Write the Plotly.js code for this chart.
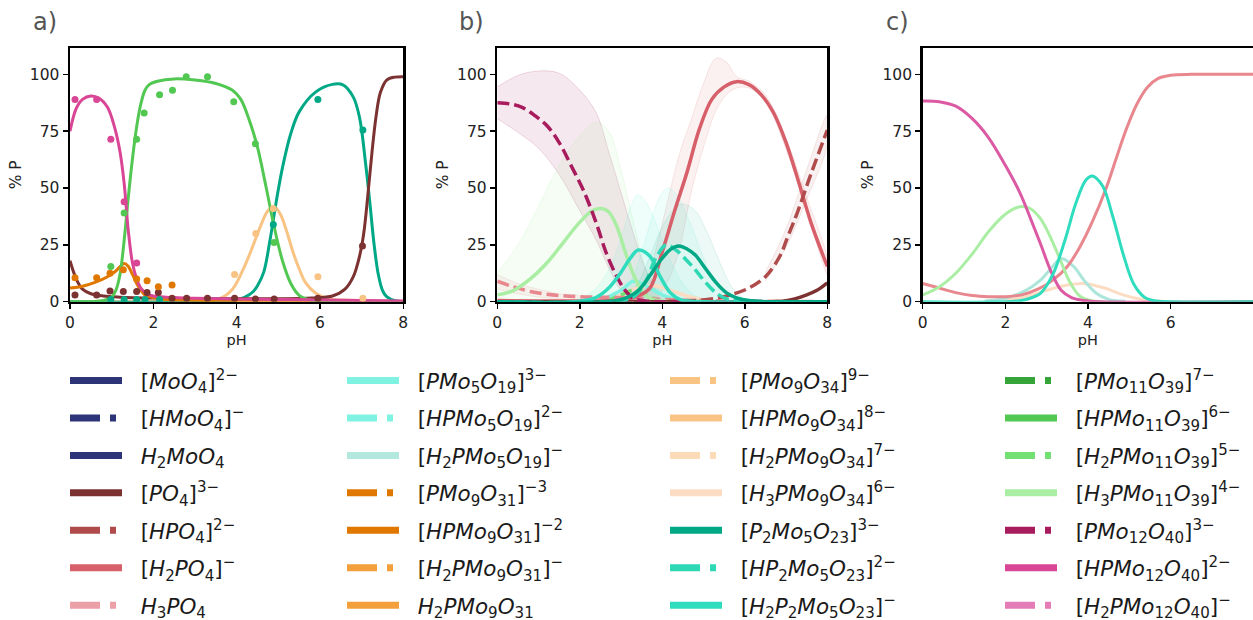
<!DOCTYPE html>
<html><head><meta charset="utf-8">
<script src="https://cdn.plot.ly/plotly-3.0.1.min.js"></script>
<style>html,body{margin:0;padding:0;background:#fff}#chart{width:1253px;height:620px}</style>
</head><body><div id="chart"></div>
<script>
// ================= DATA =================
const phTicks = [0, 2, 4, 6, 8];
const pctTicks = [0, 25, 50, 75, 100];
const panelLabels = ['a)', 'b)', 'c)'];

// ---- panel a: fitted curves ----
const aHPMo12PH  = [0, 0.15, 0.3, 0.5, 0.7, 0.9, 1.05, 1.2, 1.3, 1.4, 1.5, 1.6, 1.7, 1.85, 2.0, 2.5, 3, 4, 5, 6, 7, 8];
const aHPMo12Pct = [75, 85, 89, 90.5, 89.5, 85.5, 78, 66, 52, 31, 17, 10, 6, 3.5, 2.5, 1.8, 1.5, 1.2, 1, 0.8, 0.5, 0.3];
const aHPMo11PH  = [0, 0.8, 1.0, 1.1, 1.2, 1.3, 1.4, 1.5, 1.6, 1.7, 1.8, 1.9, 2.1, 2.5, 3.0, 3.5, 3.9, 4.1, 4.3, 4.5, 4.7, 4.9, 5.1, 5.3, 5.5, 5.7, 6, 8];
const aHPMo11Pct = [0, 0.5, 2, 5, 12, 27, 46, 63, 77, 87, 93, 95.5, 97, 98, 97.5, 96, 93, 89, 80, 68, 51, 33, 18, 8, 2.8, 1, 0.3, 0];
const aHPMo9O31PH  = [0, 0.3, 0.6, 0.9, 1.1, 1.3, 1.4, 1.5, 1.6, 1.7, 1.8, 2.0, 2.3, 3, 4, 8];
const aHPMo9O31Pct = [6, 6.8, 8.5, 11, 13.5, 16.8, 15.5, 12, 8, 5, 3, 1.8, 1, 0.6, 0.3, 0];
const aPO4PH  = [0, 0.15, 0.3, 0.5, 0.8, 1.2, 2, 3, 4, 5, 5.8, 6.3, 6.6, 6.8, 6.95, 7.05, 7.15, 7.25, 7.35, 7.45, 7.6, 7.8, 8];
const aPO4Pct = [18, 10, 5.5, 3.5, 2.5, 2, 1.6, 1.4, 1.3, 1.3, 1.6, 2.5, 5.5, 11, 20, 30, 47, 66, 82, 92, 97.5, 98.8, 99];
const aP2Mo5PH  = [0, 3.5, 4.0, 4.2, 4.4, 4.5, 4.65, 4.8, 4.95, 5.1, 5.3, 5.5, 5.9, 6.3, 6.55, 6.8, 6.95, 7.1, 7.2, 7.3, 7.4, 7.5, 7.6, 7.8, 8];
const aP2Mo5Pct = [0, 0, 0.8, 2, 4.5, 7, 13, 27, 44, 59, 74, 83.5, 92.3, 95.6, 95.4, 90, 81, 60, 43, 25, 12, 5, 2.2, 0.4, 0];
const aHPMo9O34PH  = [0, 3, 3.6, 3.9, 4.2, 4.4, 4.6, 4.75, 4.9, 5.05, 5.2, 5.35, 5.5, 5.65, 5.9, 6.2, 6.6, 7, 8];
const aHPMo9O34Pct = [0, 0.5, 1.5, 5.5, 16, 25, 34.5, 40, 41.8, 38.5, 31, 22, 14.5, 8.5, 3.7, 1.3, 0.7, 0.5, 0.2];

// ---- panel a: measured points ----
const dotHPMo12PH  = [0.12, 0.64, 0.98, 1.3, 1.6];
const dotHPMo12Pct = [89, 89, 71.5, 44, 17];
const dotHPMo11PH  = [0.98, 1.3, 1.6, 1.78, 2.15, 2.46, 2.79, 3.3, 3.93, 4.45, 4.9];
const dotHPMo11Pct = [15.5, 39, 71.5, 83, 91, 93, 99, 99, 88, 69.5, 26];
const dotHPMo9O31PH  = [0.12, 0.64, 0.96, 1.28, 1.6, 1.85, 2.12, 2.45];
const dotHPMo9O31Pct = [10.5, 10.5, 12.5, 14, 10, 9.2, 6.6, 7.3];
const dotPO4PH  = [0.12, 0.64, 0.96, 1.28, 1.6, 1.85, 2.12, 2.45, 2.8, 3.3, 3.95, 4.45, 4.9, 5.95, 7.02];
const dotPO4Pct = [3, 3, 4.7, 4.5, 4.5, 4, 4, 1.5, 1.5, 1.5, 1.5, 1.2, 1.2, 1.5, 24.5];
const dotP2Mo5PH  = [0.98, 1.3, 1.6, 1.8, 2.15, 4.88, 5.95, 7.03];
const dotP2Mo5Pct = [1, 1, 1, 1, 1, 34, 89, 75.5];
const dotHPMo9O34PH  = [3.95, 4.46, 4.88, 5.95, 7.03];
const dotHPMo9O34Pct = [12, 30, 41, 11, 1.5];

// ---- panel b: model curves ----
const bPMo12PH  = [0, 0.3, 0.6, 0.9, 1.2, 1.5, 1.8, 2.1, 2.4, 2.65, 2.9, 3.1, 3.3, 3.6, 4, 8];
const bPMo12Pct = [87.5, 87, 85.5, 82, 77.5, 70, 59.5, 48.5, 34.5, 21, 11, 5, 1.5, 0.3, 0, 0];
const bH3PMo11PH  = [0, 0.4, 0.8, 1.2, 1.6, 2.0, 2.3, 2.5, 2.7, 2.9, 3.1, 3.3, 3.5, 3.7, 4, 8];
const bH3PMo11Pct = [3, 5, 10, 17, 26, 35, 40, 41, 39.5, 33, 22, 12, 5, 1.5, 0.3, 0];
const bH2PO4PH  = [0, 1, 2, 3, 3.4, 3.7, 4.0, 4.3, 4.6, 4.9, 5.2, 5.5, 5.8, 6.1, 6.4, 6.7, 7.0, 7.3, 7.6, 8];
const bH2PO4Pct = [0.5, 0.3, 0.3, 0.8, 2.5, 6, 22, 40, 57, 76, 89, 94.5, 96.8, 95.5, 91, 83, 70, 53, 35, 15.5];
const bHPO4PH  = [0, 4.5, 5.0, 5.3, 5.65, 6.1, 6.5, 6.85, 7.05, 7.27, 7.6, 8];
const bHPO4Pct = [0, 0.2, 0.8, 1.5, 3, 6, 11, 20, 29, 39, 56, 75.5];
const bPO4PH  = [0, 6, 7.0, 7.5, 7.75, 8];
const bPO4Pct = [0, 0, 0.4, 3, 5, 8.3];
const bH3PO4PH  = [0, 0.4, 0.8, 1.2, 1.6, 2.0, 2.5, 3, 3.5, 4, 5, 8];
const bH3PO4Pct = [9, 6.5, 4.5, 3.3, 2.6, 2.2, 2, 1.8, 1.5, 1, 0.5, 0];
const bH2P2Mo5PH  = [0, 2.3, 2.7, 3.0, 3.2, 3.42, 3.7, 3.95, 4.2, 4.45, 4.7, 8];
const bH2P2Mo5Pct = [0, 1.2, 6, 13, 18.5, 22.7, 20, 11, 3.8, 0.8, 0.2, 0];
const bHP2Mo5PH  = [0, 3.0, 3.3, 3.6, 3.85, 4.1, 4.35, 4.6, 4.8, 5.05, 5.35, 5.6, 6, 8];
const bHP2Mo5Pct = [0, 0.4, 2, 9, 19.5, 25, 22.5, 18, 14, 8.5, 3.2, 1, 0.2, 0];
const bP2Mo5PH  = [0, 2.9, 3.2, 3.45, 3.7, 3.95, 4.2, 4.4, 4.6, 4.8, 5.05, 5.3, 5.55, 5.8, 6.1, 8];
const bP2Mo5Pct = [0, 0.5, 2.3, 5.5, 11.5, 18, 23, 24.5, 23.2, 20.5, 14.5, 8.5, 4, 1.7, 0.5, 0];
const bH3PMo9O34PH  = [2.5, 3.0, 3.4, 3.8, 4.2, 4.6, 5.0];
const bH3PMo9O34Pct = [0.5, 3, 6, 7, 5, 2.5, 0.8];
const bH2PMo11PH  = [2.6, 3.0, 3.3, 3.6, 3.9];
const bH2PMo11Pct = [0.5, 3, 5, 3, 0.5];
const bPMo5PH  = [2.5, 3.0, 3.3, 3.6, 4.0, 4.4];
const bPMo5Pct = [0.5, 5, 9, 7, 3, 0.5];

// ---- panel b: uncertainty bands ----
const bandPMo12PH    = [0, 0.5, 1.0, 1.5, 2.0, 2.4, 2.7, 3.0, 3.3, 3.6, 3.9, 4.2];
const bandPMo12Hi    = [94.5, 99.5, 101.5, 100.5, 93, 83, 66, 48, 30, 14, 4, 0.5];
const bandPMo12Lo    = [80.5, 74.5, 67.5, 56, 40, 27, 15, 5, 0.5, 0, 0, 0];
const bandH3PMo11PH  = [0, 0.5, 1.0, 1.5, 2.0, 2.4, 2.7, 3.0, 3.3, 3.6, 4.0];
const bandH3PMo11Hi  = [12.5, 25, 42, 60, 73, 79, 75, 58, 35, 15, 3];
const bandH2PO4PH    = [3.5, 3.8, 4.1, 4.4, 4.7, 5.0, 5.3, 5.55, 5.8, 6.1, 6.5, 7.0, 7.5, 8];
const bandH2PO4Hi    = [3, 20, 42, 64, 80, 96, 107, 105.5, 99, 97, 91, 72, 46, 19];
const bandH2PO4Lo    = [0, 1, 8, 22, 48, 68, 84, 91, 94, 94, 88, 67, 40, 12];
const bandHPO4PH     = [6.5, 7.0, 7.5, 8];
const bandHPO4Hi     = [13, 32, 58, 82];
const bandHPO4Lo     = [9, 24, 45, 69];
const bandH3PO4PH    = [0, 0.5, 1, 1.5, 2];
const bandH3PO4Hi    = [12, 8, 5.5, 3.5, 2.5];
const bandH3PO4Lo    = [5.5, 3.5, 2, 1.2, 0.8];
const bandH2P2Mo5PH  = [2.0, 2.4, 2.7, 3.0, 3.2, 3.4, 3.6, 3.9, 4.2, 4.5, 4.8, 5.1];
const bandH2P2Mo5Hi  = [1, 6, 14, 28, 40, 47, 44, 32, 18, 8, 2.5, 0.5];
const bandHP2Mo5PH   = [2.8, 3.2, 3.5, 3.8, 4.0, 4.15, 4.35, 4.6, 4.9, 5.2, 5.5, 5.8];
const bandHP2Mo5Hi   = [1, 8, 22, 40, 48, 50, 47, 38, 24, 11, 3, 0.5];
const bandP2Mo5PH    = [3.0, 3.4, 3.7, 4.0, 4.3, 4.5, 4.8, 5.1, 5.4, 5.7, 6.0];
const bandP2Mo5Hi    = [1, 8, 20, 33, 41, 43, 40, 30, 17, 6, 1];

// ---- panel c: model curves ----
const cHPMo12PH  = [0, 0.4, 0.8, 1.2, 1.6, 2.0, 2.35, 2.6, 2.85, 3.1, 3.35, 3.6, 3.9, 4.3, 8];
const cHPMo12Pct = [88.3, 88, 86, 80.5, 72, 60, 48, 37, 25.5, 13.5, 5, 1.8, 0.5, 0, 0];
const cPhosPH  = [0, 0.4, 0.8, 1.2, 1.6, 2.0, 2.4, 2.8, 3.15, 3.5, 3.8, 4.1, 4.45, 4.7, 4.95, 5.2, 5.45, 5.7, 6.0, 6.5, 7, 8];
const cPhosPct = [8, 6, 4, 2.7, 2.2, 2.2, 3, 5.6, 9.5, 15.5, 24, 35, 50.5, 64, 77, 87.5, 94.5, 98.2, 99.6, 100, 100, 100];
const cH3PMo11PH  = [0, 0.4, 0.8, 1.2, 1.6, 2.0, 2.35, 2.6, 2.85, 3.1, 3.35, 3.55, 3.8, 4.1, 8];
const cH3PMo11Pct = [3, 6.5, 12.5, 21, 31, 38.5, 41.8, 41, 36.5, 28, 17.5, 9, 2.5, 0.3, 0];
const cH2P2Mo5PH  = [0, 2.3, 2.6, 2.85, 3.15, 3.45, 3.7, 3.95, 4.1, 4.35, 4.6, 4.85, 5.1, 5.35, 5.6, 6, 8];
const cH2P2Mo5Pct = [0, 0.3, 1.5, 3.7, 12, 27.5, 43, 53.5, 55.3, 51, 37.5, 21, 8, 2.2, 0.4, 0, 0];
const cH2PMo5PH  = [1.5, 2.0, 2.5, 2.85, 3.1, 3.35, 3.65, 3.9, 4.2, 4.5, 4.9];
const cH2PMo5Pct = [0.3, 1.5, 5, 9.5, 14.5, 19, 15.5, 9.5, 3.7, 1, 0.2];
const cH3PMo9O34PH  = [2.0, 2.5, 3.0, 3.5, 3.9, 4.4, 4.85, 5.3, 5.8];
const cH3PMo9O34Pct = [0.7, 2.2, 5, 7.3, 8, 6, 3, 1, 0.2];

// ---- legend: species names (4 columns) ----
const legendCol1 = [
  '[<i>MoO</i><sub>4</sub>]<sup>2−</sup>',
  '[<i>HMoO</i><sub>4</sub>]<sup>−</sup>',
  '<i>H</i><sub>2</sub><i>MoO</i><sub>4</sub>',
  '[<i>PO</i><sub>4</sub>]<sup>3−</sup>',
  '[<i>HPO</i><sub>4</sub>]<sup>2−</sup>',
  '[<i>H</i><sub>2</sub><i>PO</i><sub>4</sub>]<sup>−</sup>',
  '<i>H</i><sub>3</sub><i>PO</i><sub>4</sub>'
];
const legendCol2 = [
  '[<i>PMo</i><sub>5</sub><i>O</i><sub>19</sub>]<sup>3−</sup>',
  '[<i>HPMo</i><sub>5</sub><i>O</i><sub>19</sub>]<sup>2−</sup>',
  '[<i>H</i><sub>2</sub><i>PMo</i><sub>5</sub><i>O</i><sub>19</sub>]<sup>−</sup>',
  '[<i>PMo</i><sub>9</sub><i>O</i><sub>31</sub>]<sup>−3</sup>',
  '[<i>HPMo</i><sub>9</sub><i>O</i><sub>31</sub>]<sup>−2</sup>',
  '[<i>H</i><sub>2</sub><i>PMo</i><sub>9</sub><i>O</i><sub>31</sub>]<sup>−</sup>',
  '<i>H</i><sub>2</sub><i>PMo</i><sub>9</sub><i>O</i><sub>31</sub>'
];
const legendCol3 = [
  '[<i>PMo</i><sub>9</sub><i>O</i><sub>34</sub>]<sup>9−</sup>',
  '[<i>HPMo</i><sub>9</sub><i>O</i><sub>34</sub>]<sup>8−</sup>',
  '[<i>H</i><sub>2</sub><i>PMo</i><sub>9</sub><i>O</i><sub>34</sub>]<sup>7−</sup>',
  '[<i>H</i><sub>3</sub><i>PMo</i><sub>9</sub><i>O</i><sub>34</sub>]<sup>6−</sup>',
  '[<i>P</i><sub>2</sub><i>Mo</i><sub>5</sub><i>O</i><sub>23</sub>]<sup>3−</sup>',
  '[<i>HP</i><sub>2</sub><i>Mo</i><sub>5</sub><i>O</i><sub>23</sub>]<sup>2−</sup>',
  '[<i>H</i><sub>2</sub><i>P</i><sub>2</sub><i>Mo</i><sub>5</sub><i>O</i><sub>23</sub>]<sup>−</sup>'
];
const legendCol4 = [
  '[<i>PMo</i><sub>11</sub><i>O</i><sub>39</sub>]<sup>7−</sup>',
  '[<i>HPMo</i><sub>11</sub><i>O</i><sub>39</sub>]<sup>6−</sup>',
  '[<i>H</i><sub>2</sub><i>PMo</i><sub>11</sub><i>O</i><sub>39</sub>]<sup>5−</sup>',
  '[<i>H</i><sub>3</sub><i>PMo</i><sub>11</sub><i>O</i><sub>39</sub>]<sup>4−</sup>',
  '[<i>PMo</i><sub>12</sub><i>O</i><sub>40</sub>]<sup>3−</sup>',
  '[<i>HPMo</i><sub>12</sub><i>O</i><sub>40</sub>]<sup>2−</sup>',
  '[<i>H</i><sub>2</sub><i>PMo</i><sub>12</sub><i>O</i><sub>40</sub>]<sup>−</sup>'
];

// ================= STYLES =================
const C = {
  navy: '#2d3478', PO4: '#7d3232', HPO4: '#af4b4b', H2PO4: '#d75f69', H3PO4: '#eba0a8',
  PMo5: '#7ff2e2', H2PMo5: '#b2e8dd', PMo9O31: '#e07800', H2PMo9O31: '#f3a03c',
  PMo9O34: '#f8c383', H2PMo9O34: '#fcdcb8', H3PMo9O34: '#fcdcc2',
  P2Mo5: '#00a886', HP2Mo5: '#2fd8b5', H2P2Mo5: '#30dcbe',
  PMo11: '#35a53a', HPMo11: '#52c852', H2PMo11: '#72e072', H3PMo11: '#aaeea4',
  PMo12: '#a81c5e', HPMo12: '#da4696', H2PMo12: '#e47cb8',
  cPink: '#db5aa3', cPhos: '#e8888e', cLightTeal: '#ace6da'
};
const legendCol1Style = [[C.navy,'solid'],[C.navy,'dash'],[C.navy,'solid'],[C.PO4,'solid'],[C.HPO4,'dash'],[C.H2PO4,'solid'],[C.H3PO4,'dash']];
const legendCol2Style = [[C.PMo5,'solid'],[C.PMo5,'dash'],[C.H2PMo5,'solid'],[C.PMo9O31,'dash'],[C.PMo9O31,'solid'],[C.H2PMo9O31,'dash'],[C.H2PMo9O31,'solid']];
const legendCol3Style = [[C.PMo9O34,'dash'],[C.PMo9O34,'solid'],[C.H2PMo9O34,'dash'],[C.H3PMo9O34,'solid'],[C.P2Mo5,'solid'],[C.HP2Mo5,'dash'],[C.H2P2Mo5,'solid']];
const legendCol4Style = [[C.PMo11,'dash'],[C.HPMo11,'solid'],[C.H2PMo11,'dash'],[C.H3PMo11,'solid'],[C.PMo12,'dash'],[C.HPMo12,'solid'],[C.H2PMo12,'dash']];

const FONT = 'DejaVu Sans, Verdana, sans-serif';
const PLOT_DASH = '12px,5px';
const LEG_DASH = '30px,10px,6px,10px';
const LEG_PAD = '\u00a0\u00a0';

const traces = [];
function curve(x, y, ax, color, width, dash) {
  traces.push({type: 'scatter', mode: 'lines', x: x, y: y, xaxis: 'x' + ax, yaxis: 'y' + ax,
    line: {color: color, width: width, shape: 'spline', dash: dash === 'dash' ? PLOT_DASH : 'solid'},
    showlegend: false, hoverinfo: 'skip'});
}
function dots(x, y, ax, color) {
  traces.push({type: 'scatter', mode: 'markers', x: x, y: y, xaxis: 'x' + ax, yaxis: 'y' + ax,
    marker: {color: color, size: 7}, showlegend: false, hoverinfo: 'skip'});
}
function hexA(hex, a) {
  const n = parseInt(hex.slice(1), 16);
  return 'rgba(' + (n >> 16) + ',' + ((n >> 8) & 255) + ',' + (n & 255) + ',' + a + ')';
}
function bandZero(x, hi, ax, color, a) {
  traces.push({type: 'scatter', mode: 'lines', x: x, y: hi, xaxis: 'x' + ax, yaxis: 'y' + ax,
    fill: 'tozeroy', fillcolor: hexA(color, a), line: {color: hexA(color, a * 1.6), width: 1, shape: 'spline'},
    showlegend: false, hoverinfo: 'skip'});
}
function band(x, hi, lo, ax, color, a) {
  traces.push({type: 'scatter', mode: 'lines', x: x.concat(x.slice().reverse()), y: hi.concat(lo.slice().reverse()),
    xaxis: 'x' + ax, yaxis: 'y' + ax, fill: 'toself', fillcolor: hexA(color, a),
    line: {color: hexA(color, a * 1.6), width: 1, shape: 'spline'}, showlegend: false, hoverinfo: 'skip'});
}

// ---- panel a ----
curve(aHPMo9O34PH, aHPMo9O34Pct, '', C.PMo9O34, 3);
curve(aP2Mo5PH, aP2Mo5Pct, '', C.P2Mo5, 3);
curve(aPO4PH, aPO4Pct, '', C.PO4, 3);
curve(aHPMo9O31PH, aHPMo9O31Pct, '', C.PMo9O31, 3);
curve(aHPMo11PH, aHPMo11Pct, '', C.HPMo11, 3);
curve(aHPMo12PH, aHPMo12Pct, '', C.HPMo12, 3);
dots(dotHPMo9O34PH, dotHPMo9O34Pct, '', C.PMo9O34);
dots(dotP2Mo5PH, dotP2Mo5Pct, '', C.P2Mo5);
dots(dotPO4PH, dotPO4Pct, '', C.PO4);
dots(dotHPMo9O31PH, dotHPMo9O31Pct, '', C.PMo9O31);
dots(dotHPMo11PH, dotHPMo11Pct, '', C.HPMo11);
dots(dotHPMo12PH, dotHPMo12Pct, '', C.HPMo12);

// ---- panel b ----
band(bandPMo12PH, bandPMo12Hi, bandPMo12Lo, '2', C.PMo12, 0.1);
bandZero(bandH3PMo11PH, bandH3PMo11Hi, '2', C.H3PMo11, 0.12);
band(bandH2PO4PH, bandH2PO4Hi, bandH2PO4Lo, '2', C.H2PO4, 0.09);
band(bandHPO4PH, bandHPO4Hi, bandHPO4Lo, '2', C.HPO4, 0.08);
band(bandH3PO4PH, bandH3PO4Hi, bandH3PO4Lo, '2', C.H3PO4, 0.12);
bandZero(bandH2P2Mo5PH, bandH2P2Mo5Hi, '2', C.PMo5, 0.12);
bandZero(bandHP2Mo5PH, bandHP2Mo5Hi, '2', C.PMo5, 0.12);
bandZero(bandP2Mo5PH, bandP2Mo5Hi, '2', C.P2Mo5, 0.07);
curve(bH3PMo9O34PH, bH3PMo9O34Pct, '2', C.H3PMo9O34, 3.5);
curve(bH2PMo11PH, bH2PMo11Pct, '2', C.H2PMo11, 3.5, 'dash');
curve(bPMo5PH, bPMo5Pct, '2', C.PMo5, 3.5);
curve(bH3PO4PH, bH3PO4Pct, '2', C.cPhos, 3.5, 'dash');
curve(bH3PMo11PH, bH3PMo11Pct, '2', C.H3PMo11, 3.5);
curve(bH2PO4PH, bH2PO4Pct, '2', C.H2PO4, 3.5);
curve(bHPO4PH, bHPO4Pct, '2', C.HPO4, 3.5, 'dash');
curve(bPO4PH, bPO4Pct, '2', C.PO4, 3.5);
curve(bPMo12PH, bPMo12Pct, '2', C.PMo12, 3.5, 'dash');
curve(bH2P2Mo5PH, bH2P2Mo5Pct, '2', C.H2P2Mo5, 3.5);
curve(bHP2Mo5PH, bHP2Mo5Pct, '2', C.HP2Mo5, 3.5, 'dash');
curve(bP2Mo5PH, bP2Mo5Pct, '2', C.P2Mo5, 3.5);

// ---- panel c ----
curve(cH3PMo9O34PH, cH3PMo9O34Pct, '3', C.H3PMo9O34, 3);
curve(cH2PMo5PH, cH2PMo5Pct, '3', C.cLightTeal, 3);
curve(cPhosPH, cPhosPct, '3', C.cPhos, 3);
curve(cH3PMo11PH, cH3PMo11Pct, '3', C.H3PMo11, 3);
curve(cHPMo12PH, cHPMo12Pct, '3', C.cPink, 3);
curve(cH2P2Mo5PH, cH2P2Mo5Pct, '3', C.H2P2Mo5, 3);

// ---- legend-only entries ----
const legendDefs = [
  {id: 'legend',  names: legendCol1, styles: legendCol1Style, x: 65},
  {id: 'legend2', names: legendCol2, styles: legendCol2Style, x: 342},
  {id: 'legend3', names: legendCol3, styles: legendCol3Style, x: 665},
  {id: 'legend4', names: legendCol4, styles: legendCol4Style, x: 1000}
];
legendDefs.forEach(function (L, li) {
  L.names.forEach(function (nm, k) {
    traces.push({type: 'scatter', mode: 'lines', x: [null], y: [null], name: LEG_PAD + nm,
      legend: L.id, legendgroup: 'g' + li + '_' + k, showlegend: true, hoverinfo: 'skip',
      line: {color: L.styles[k][0], width: 7, dash: L.styles[k][1] === 'dash' ? LEG_DASH : 'solid'}});
  });
});

// ================= LAYOUT =================
const W = 1253, H = 620;
const yDom = [1 - 301.7 / H, 1 - 48 / H];
function xAxis(d0, d1, anchor) {
  return {domain: [d0 / W, d1 / W], range: [0, 8], tickvals: phTicks, ticktext: phTicks.map(String),
    ticks: 'outside', ticklen: 5, tickwidth: 1.5, tickcolor: '#000',
    showline: true, linewidth: 2.5, linecolor: '#000', mirror: true,
    showgrid: false, zeroline: false, fixedrange: true, anchor: anchor,
    tickfont: {family: FONT, size: 15.5, color: '#222'},
    title: {text: 'pH', font: {family: FONT, size: 14.5, color: '#222'}, standoff: 3}};
}
function yAxis(anchor, mirror) {
  return {domain: yDom, range: [0, 111.6], tickvals: pctTicks, ticktext: pctTicks.map(String),
    ticks: 'outside', ticklen: 5, tickwidth: 1.5, tickcolor: '#000',
    showline: true, linewidth: 2.5, linecolor: '#000', mirror: mirror,
    showgrid: false, zeroline: false, fixedrange: true, anchor: anchor,
    tickfont: {family: FONT, size: 15.5, color: '#222'},
    title: {text: '% P', font: {family: FONT, size: 15.5, color: '#222'}, standoff: 5}};
}
function legendBox(x) {
  return {x: x / W, y: 1 - 360 / H, xanchor: 'left', yanchor: 'top', orientation: 'v',
    bgcolor: 'rgba(0,0,0,0)', borderwidth: 0, itemwidth: 52, tracegroupgap: 6.5,
    traceorder: 'grouped', itemclick: false, itemdoubleclick: false,
    font: {family: FONT, size: 21.5, color: '#1a1a1a'}};
}
const layout = {
  width: W, height: H, margin: {l: 0, r: 0, t: 0, b: 0, autoexpand: false},
  paper_bgcolor: '#fff', plot_bgcolor: '#fff', font: {family: FONT},
  xaxis: xAxis(70, 403.3, 'y'), yaxis: yAxis('x', true),
  xaxis2: xAxis(497.3, 827.3, 'y2'), yaxis2: yAxis('x2', true),
  xaxis3: xAxis(922.7, 1253.3, 'y3'), yaxis3: yAxis('x3', false),
  legend: legendBox(legendDefs[0].x), legend2: legendBox(legendDefs[1].x),
  legend3: legendBox(legendDefs[2].x), legend4: legendBox(legendDefs[3].x),
  annotations: panelLabels.map(function (t, i) {
    return {text: t, xref: 'paper', yref: 'paper', x: [31, 457, 884][i] / W, y: 1 - 22 / H,
      xanchor: 'left', yanchor: 'middle', showarrow: false, font: {family: FONT, size: 24, color: '#555'}};
  })
};
layout.xaxis3.domain = [922.7 / W, 1];
layout.xaxis3.range = [0, 8 * (W - 922.7) / (1253.3 - 922.7)];
Plotly.newPlot('chart', traces, layout, {displayModeBar: false, staticPlot: true});
</script>
</body></html>
